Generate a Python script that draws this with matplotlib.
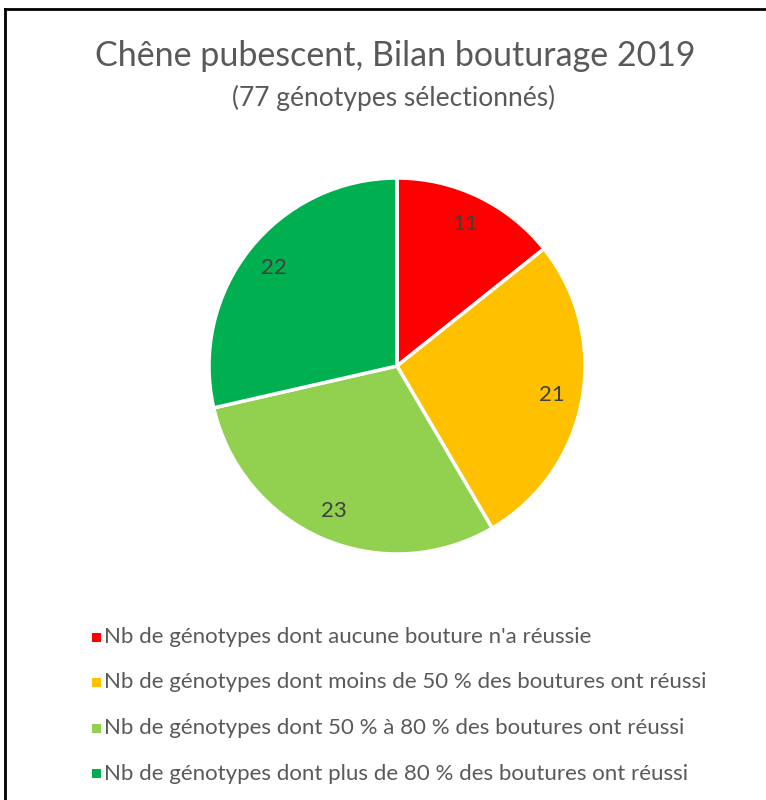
import matplotlib
matplotlib.use("Agg")
import matplotlib.pyplot as plt
from matplotlib.patches import Rectangle

labels = ["Nb de génotypes dont aucune bouture n'a réussie",
          "Nb de génotypes dont moins de 50 % des boutures ont réussi",
          "Nb de génotypes dont 50 % à 80 % des boutures ont réussi",
          "Nb de génotypes dont plus de 80 % des boutures ont réussi"]
values = [11, 21, 23, 22]
colors = ["#FF0000", "#FFC000", "#92D050", "#00B050"]

plt.rcParams['font.family'] = ['Lato', 'DejaVu Sans']

fig = plt.figure(figsize=(7.66, 8), dpi=100)
fig.patch.set_facecolor("white")

# frame of the chart area (only top and left visible in crop)
fig.add_artist(plt.Line2D([5/766, 5/766], [0, 1 - 9/800], transform=fig.transFigure, color="black", lw=2))
fig.add_artist(plt.Line2D([5/766, 1], [1 - 9/800, 1 - 9/800], transform=fig.transFigure, color="black", lw=2))

fig.text(395/766, 1 - 56/800, "Chêne pubescent, Bilan bouturage 2019", ha="center", va="center",
         fontsize=24.5, color="#595959")
fig.text(394/766, 1 - 98/800, "(77 génotypes sélectionnés)", ha="center", va="center",
         fontsize=19, color="#595959")

# pie axes: centre (397, 366), radius 188 px
r = 188
ax = fig.add_axes([(397 - r)/766, 1 - (366 + r)/800, 2*r/766, 2*r/800])
wedges, texts = ax.pie(values, colors=colors, startangle=90, counterclock=False,
                       labels=[str(v) for v in values], labeldistance=0.84,
                       wedgeprops=dict(edgecolor="white", linewidth=2.5),
                       textprops=dict(fontsize=16, color="#404040"))
for t in texts:
    t.set_ha("center")
    t.set_va("center")
ax.set_xlim(-1, 1)
ax.set_ylim(-1, 1)
ax.set_aspect("equal")

# legend
for i, (lab, c) in enumerate(zip(labels, colors)):
    y = 1 - (637 + i*45.5)/800
    fig.add_artist(Rectangle((92/766, y - 4.5/800), 9/766, 9/800, transform=fig.transFigure,
                             facecolor=c, edgecolor="none"))
    fig.text(104/766, y, lab, ha="left", va="center", fontsize=16, color="#595959")

plt.savefig("out.png", dpi=100)
